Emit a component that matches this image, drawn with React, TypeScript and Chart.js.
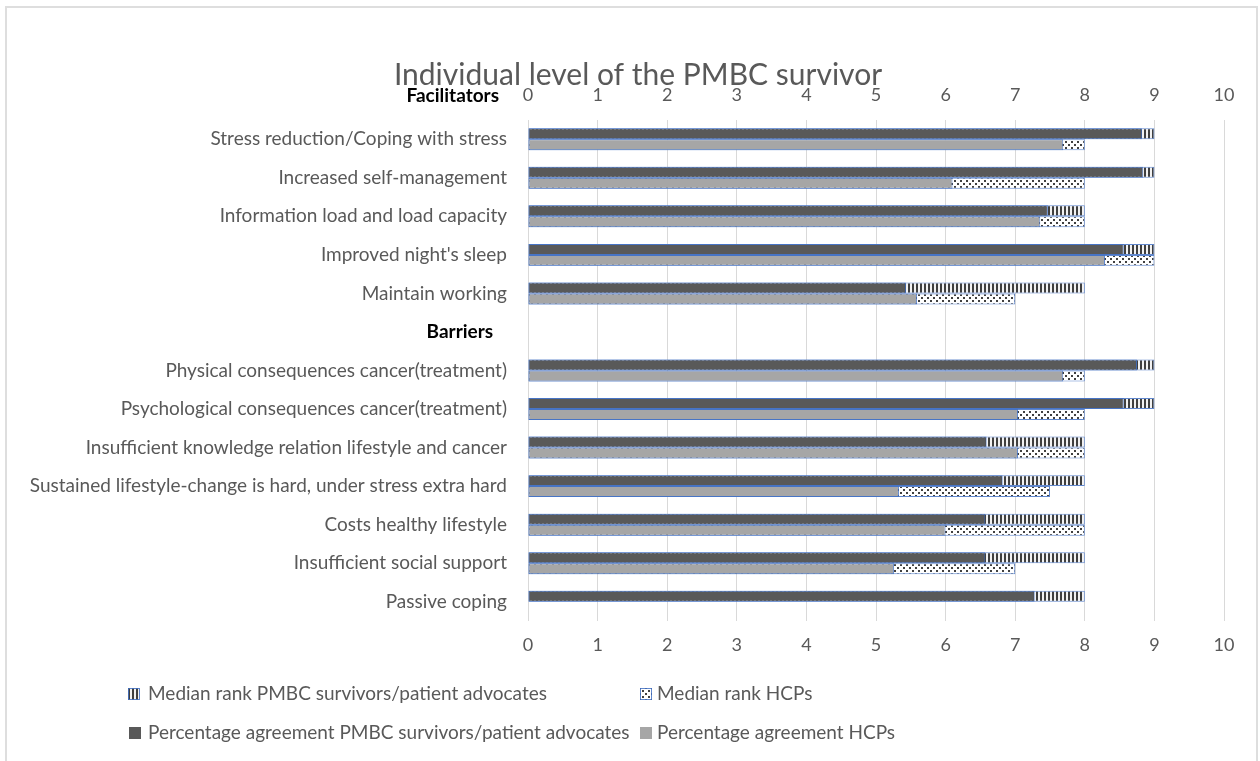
import React, { useEffect, useRef } from 'react';
import { Chart, registerables } from 'chart.js';

Chart.register(...registerables);

const categories = [
  'Stress reduction/Coping with stress',
  'Increased self-management',
  'Information load and load capacity',
  "Improved night's sleep",
  'Maintain working',
  'Barriers',
  'Physical consequences cancer(treatment)',
  'Psychological consequences cancer(treatment)',
  'Insufficient knowledge relation lifestyle and cancer',
  'Sustained lifestyle-change is hard, under stress extra hard',
  'Costs healthy lifestyle',
  'Insufficient social support',
  'Passive coping',
];
const facilitatorsHeader = 'Facilitators';
const barriersHeader = 'Barriers';

const medianRankSurvivors = [9, 9, 8, 9, 8, null, 9, 9, 8, 8, 8, 8, 8];
const medianRankHCPs = [8, 8, 8, 9, 7, null, 8, 8, 8, 7.5, 8, 7, null];
const pctAgreementSurvivors = [8.82, 8.84, 7.47, 8.56, 5.43, null, 8.75, 8.56, 6.59, 6.82, 6.57, 6.57, 7.28];
const pctAgreementHCPs = [7.69, 6.1, 7.36, 8.29, 5.59, null, 7.69, 7.04, 7.04, 5.33, 6.0, 5.26, null];

const axisMin = 0;
const axisMax = 10;
const axisStep = 1;

const titleText = 'Individual level of the PMBC survivor';
const legendLabels = [
  'Median rank PMBC survivors/patient advocates',
  'Median rank HCPs',
  'Percentage agreement PMBC survivors/patient advocates',
  'Percentage agreement HCPs',
];

const FONT = 'Lato';
const TEXT_GRAY = '#595959';
const DARK = '#595959';
const LIGHT = '#A6A6A6';
const BLUE = 'rgba(68,114,196,0.85)';

function makeStripePattern(): CanvasPattern | string {
  const c = document.createElement('canvas');
  c.width = 4;
  c.height = 4;
  const g = c.getContext('2d');
  if (!g) return DARK;
  g.fillStyle = '#f2f2f2';
  g.fillRect(0, 0, 4, 4);
  g.fillStyle = '#3f3f3f';
  g.fillRect(0, 0, 2, 4);
  return g.createPattern(c, 'repeat') || DARK;
}

function makeDotPattern(): CanvasPattern | string {
  const c = document.createElement('canvas');
  c.width = 6;
  c.height = 6;
  const g = c.getContext('2d');
  if (!g) return LIGHT;
  g.fillStyle = '#ffffff';
  g.fillRect(0, 0, 6, 6);
  g.fillStyle = '#404040';
  g.fillRect(0, 0, 2, 2);
  g.fillRect(3, 3, 2, 2);
  return g.createPattern(c, 'repeat') || LIGHT;
}

export default function App() {
  const ref = useRef<HTMLCanvasElement | null>(null);

  useEffect(() => {
    if (!ref.current) return;
    const stripes = makeStripePattern();
    const dots = makeDotPattern();

    const decor = {
      id: 'decor',
      afterDraw(chart: any) {
        const ctx = chart.ctx as CanvasRenderingContext2D;
        ctx.save();
        // chart-area border
        ctx.strokeStyle = '#DEDEDE';
        ctx.lineWidth = 2;
        ctx.strokeRect(6, 7, 1251, 762);
        // title
        ctx.fillStyle = TEXT_GRAY;
        ctx.font = `30px ${FONT}`;
        ctx.textAlign = 'center';
        ctx.textBaseline = 'middle';
        ctx.fillText(titleText, 638, 75);
        // Facilitators header
        ctx.fillStyle = '#000000';
        ctx.font = `bold 19px ${FONT}`;
        ctx.textAlign = 'right';
        ctx.fillText(facilitatorsHeader, 499, 96);
        // legend
        const items = [
          { bx: 128, y: 694, tx: 148, fill: stripes, border: true },
          { bx: 640, y: 694, tx: 657, fill: dots, border: true },
          { bx: 129, y: 733, tx: 148, fill: DARK, border: false },
          { bx: 640, y: 733, tx: 657, fill: LIGHT, border: false },
        ];
        ctx.font = `19px ${FONT}`;
        ctx.textAlign = 'left';
        ctx.textBaseline = 'middle';
        items.forEach((it, i) => {
          ctx.fillStyle = it.fill as any;
          ctx.fillRect(it.bx, it.y - 6, 12, 12);
          if (it.border) {
            ctx.strokeStyle = BLUE;
            ctx.lineWidth = 1;
            ctx.strokeRect(it.bx + 0.5, it.y - 5.5, 11, 11);
          }
          ctx.fillStyle = TEXT_GRAY;
          ctx.fillText(legendLabels[i], it.tx, it.y);
        });
        ctx.restore();
      },
    };

    const barDefaults = {
      borderColor: BLUE,
      borderWidth: 1,
      borderSkipped: false,
      categoryPercentage: 0.57,
      barPercentage: 1,
    };

    const chart = new Chart(ref.current, {
      type: 'bar',
      data: {
        labels: categories,
        datasets: [
          { ...barDefaults, label: legendLabels[2], data: pctAgreementSurvivors, backgroundColor: DARK, stack: 'survivors' },
          { ...barDefaults, label: legendLabels[3], data: pctAgreementHCPs, backgroundColor: LIGHT, stack: 'hcps' },
          { ...barDefaults, label: legendLabels[0], data: medianRankSurvivors, backgroundColor: stripes as any, stack: 'survivors' },
          { ...barDefaults, label: legendLabels[1], data: medianRankHCPs, backgroundColor: dots as any, stack: 'hcps' },
        ] as any,
      },
      options: {
        indexAxis: 'y',
        responsive: true,
        maintainAspectRatio: false,
        animation: false,
        layout: { padding: { top: 0, left: 0, right: 36, bottom: 0 } },
        plugins: {
          legend: { display: false },
          title: { display: false },
          tooltip: { enabled: false },
        },
        scales: {
          y: {
            stacked: true,
            grid: { display: false, drawTicks: false },
            border: { display: false },
            ticks: {
              autoSkip: false,
              padding: 21,
              color: (c: any) => (categories[c.index] === barriersHeader ? '#000000' : TEXT_GRAY),
              font: (c: any) => ({
                family: FONT,
                size: 19,
                weight: categories[c.index] === barriersHeader ? 'bold' : 'normal',
              }),
              callback: (_v: any, i: number) =>
                categories[i] === barriersHeader ? categories[i] + '   ' : categories[i],
            },
            afterFit: (s: any) => {
              s.width = 528;
            },
          },
          x: {
            type: 'linear',
            position: 'bottom',
            stacked: false,
            min: axisMin,
            max: axisMax,
            grid: { color: '#D9D9D9', drawTicks: false },
            border: { display: false },
            ticks: { stepSize: axisStep, padding: 13, color: TEXT_GRAY, font: { family: FONT, size: 18 } },
            afterFit: (s: any) => {
              s.height = 140;
            },
          },
          x2: {
            type: 'linear',
            axis: 'x',
            position: 'top',
            min: axisMin,
            max: axisMax,
            grid: { display: false, drawTicks: false },
            border: { display: false },
            ticks: { stepSize: axisStep, padding: 14, color: TEXT_GRAY, font: { family: FONT, size: 18 } },
            afterFit: (s: any) => {
              s.height = 120;
            },
          },
        } as any,
      },
      plugins: [decor],
    });
    return () => chart.destroy();
  }, []);

  return (
    <div style={{ position: 'absolute', left: 0, top: 0, width: 1260, height: 761, background: '#ffffff' }}>
      <canvas ref={ref} />
    </div>
  );
}
